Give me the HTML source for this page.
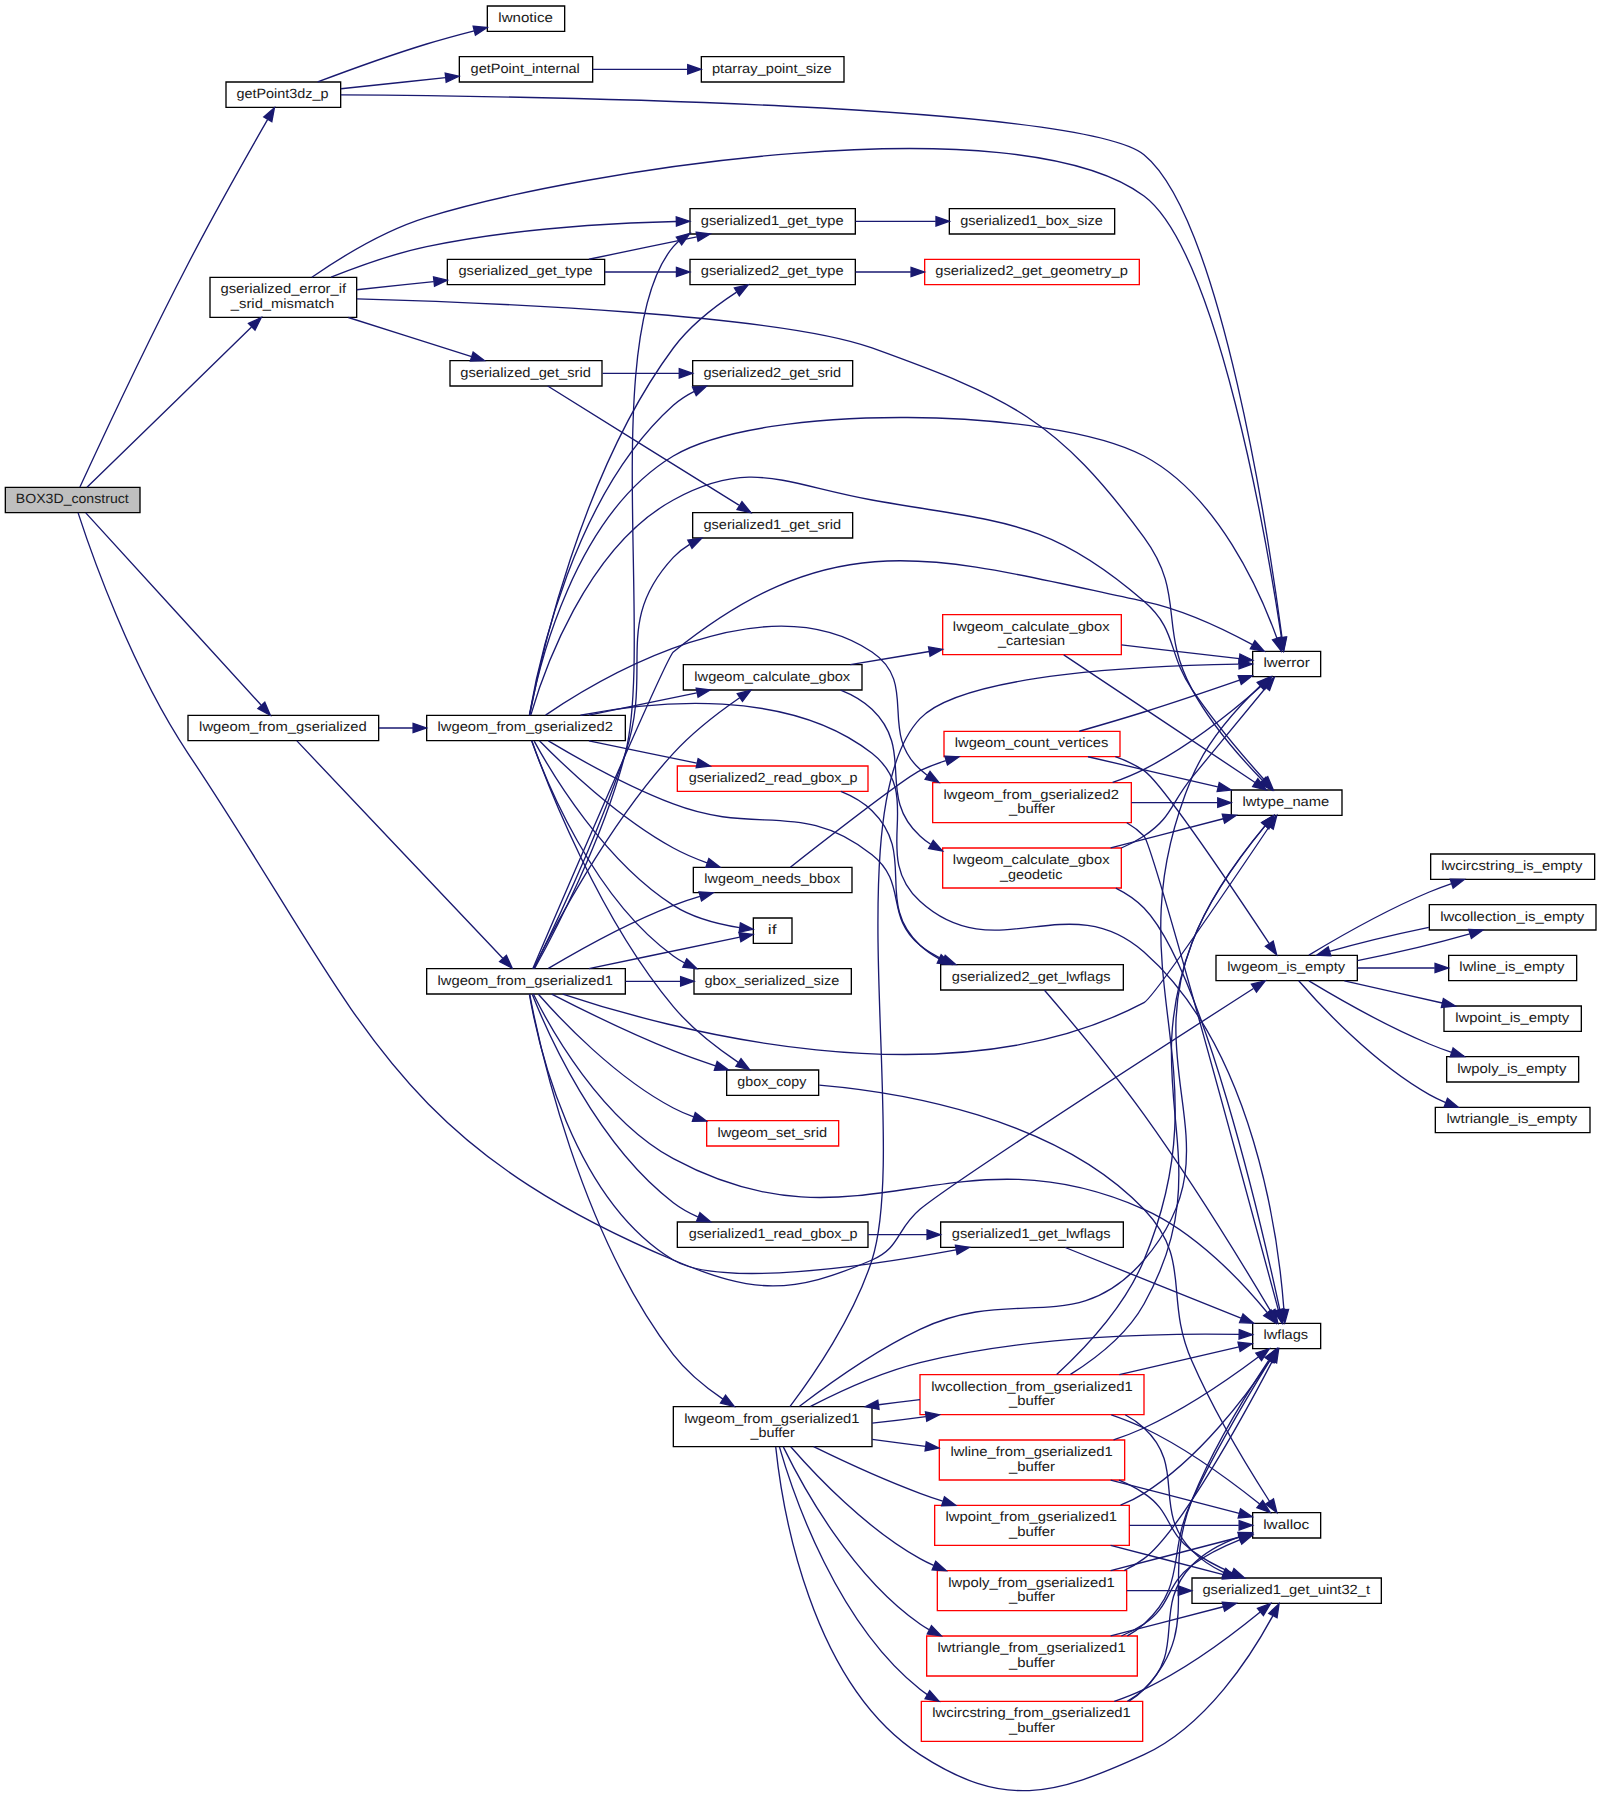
<!DOCTYPE html>
<html><head><meta charset="utf-8"><title>BOX3D_construct call graph</title>
<style>
html,body{margin:0;padding:0;background:#fff;}
body{width:1601px;height:1796px;overflow:hidden;}
svg{display:block;}
svg text{font-family:"Liberation Sans",sans-serif;font-size:10px;fill:#1a1a1a;text-rendering:geometricPrecision;}

</style></head>
<body>
<svg width="1201pt" height="1347.22pt" viewBox="0 0 1201 1347.22">
<g transform="scale(1 1) rotate(0) translate(4 1343.22)">
<polygon fill="white" stroke="none" points="-4,4 -4,-1343.22 1197,-1343.22 1197,4 -4,4"/>
<g><polygon fill="#bfbfbf" stroke="black" points="0,-958.72 0,-977.72 101,-977.72 101,-958.72 0,-958.72"/>
<text text-anchor="middle" x="50.20" y="-965.72" textLength="84.68" lengthAdjust="spacingAndGlyphs">BOX3D_construct</text></g>
<g><polygon fill="white" stroke="black" points="165.5,-1262.72 165.5,-1281.72 251.5,-1281.72 251.5,-1262.72 165.5,-1262.72"/>
<text text-anchor="middle" x="207.90" y="-1269.72" textLength="69.06" lengthAdjust="spacingAndGlyphs">getPoint3dz_p</text></g>
<g><path fill="none" stroke="midnightblue" d="M55.94,-977.9C68.3,-1004.74 104.32,-1082.2 137,-1145.22 157.2,-1184.17 182.52,-1228.85 196.66,-1253.47"/>
<polygon fill="midnightblue" stroke="midnightblue" points="193.8,-1255.52 201.82,-1262.44 199.86,-1252.03 193.8,-1255.52"/></g>
<g><polygon fill="white" stroke="black" points="153.5,-1105.22 153.5,-1135.22 263.5,-1135.22 263.5,-1105.22 153.5,-1105.22"/>
<text text-anchor="middle" x="208.50" y="-1123.22" textLength="94.24" lengthAdjust="spacingAndGlyphs">gserialized_error_if</text>
<text text-anchor="middle" x="207.90" y="-1112.22" textLength="77.50" lengthAdjust="spacingAndGlyphs">_srid_mismatch</text></g>
<g><path fill="none" stroke="midnightblue" d="M61.26,-977.72C85.69,-1001.53 150.02,-1064.21 184.65,-1097.95"/>
<polygon fill="midnightblue" stroke="midnightblue" points="182.36,-1100.61 191.97,-1105.08 187.25,-1095.59 182.36,-1100.61"/></g>
<g><polygon fill="white" stroke="black" points="137,-787.72 137,-806.72 280,-806.72 280,-787.72 137,-787.72"/>
<text text-anchor="middle" x="208.20" y="-794.72" textLength="125.72" lengthAdjust="spacingAndGlyphs">lwgeom_from_gserialized</text></g>
<g><path fill="none" stroke="midnightblue" d="M60.33,-958.53C85.75,-930.67 159.33,-850.02 191.79,-814.43"/>
<polygon fill="midnightblue" stroke="midnightblue" points="194.61,-816.54 198.76,-806.79 189.44,-811.82 194.61,-816.54"/></g>
<g><polygon fill="white" stroke="black" points="908,-607.72 908,-626.72 1014,-626.72 1014,-607.72 908,-607.72"/>
<text text-anchor="middle" x="960.70" y="-614.72" textLength="88.48" lengthAdjust="spacingAndGlyphs">lwgeom_is_empty</text></g>
<g><path fill="none" stroke="midnightblue" d="M54.57,-958.55C64.01,-929.6 94.59,-841.67 137,-778.22 266.97,-583.78 285.53,-489.15 501,-398.22 562.01,-372.47 589.17,-372.05 650,-398.22 671.37,-407.41 668.18,-421.26 686,-436.22 708.59,-455.17 873.61,-561.69 936.1,-601.87"/>
<polygon fill="midnightblue" stroke="midnightblue" points="934.58,-605.06 944.88,-607.52 938.36,-599.17 934.58,-605.06"/></g>
<g><polygon fill="white" stroke="black" points="340.5,-1281.72 340.5,-1300.72 440.5,-1300.72 440.5,-1281.72 340.5,-1281.72"/>
<text text-anchor="middle" x="389.90" y="-1288.72" textLength="81.92" lengthAdjust="spacingAndGlyphs">getPoint_internal</text></g>
<g><path fill="none" stroke="midnightblue" d="M251.7,-1276.67C275.09,-1279.14 304.56,-1282.25 330.23,-1284.96"/>
<polygon fill="midnightblue" stroke="midnightblue" points="329.91,-1288.45 340.23,-1286.01 330.65,-1281.48 329.91,-1288.45"/></g>
<g><polygon fill="white" stroke="black" points="935.5,-835.72 935.5,-854.72 986.5,-854.72 986.5,-835.72 935.5,-835.72"/>
<text text-anchor="middle" x="961.00" y="-842.72" textLength="34.87" lengthAdjust="spacingAndGlyphs">lwerror</text></g>
<g><path fill="none" stroke="midnightblue" d="M251.62,-1272.05C387.4,-1271.13 807.47,-1265.22 854,-1227.22 912.06,-1179.79 948.06,-936.46 957.51,-864.98"/>
<polygon fill="midnightblue" stroke="midnightblue" points="960.98,-865.41 958.79,-855.04 954.04,-864.51 960.98,-865.41"/></g>
<g><polygon fill="white" stroke="black" points="361.5,-1319.72 361.5,-1338.72 419.5,-1338.72 419.5,-1319.72 361.5,-1319.72"/>
<text text-anchor="middle" x="390.20" y="-1326.72" textLength="40.86" lengthAdjust="spacingAndGlyphs">lwnotice</text></g>
<g><path fill="none" stroke="midnightblue" d="M234.25,-1281.76C255.7,-1289.86 287.66,-1301.52 316,-1310.22 327.5,-1313.75 340.14,-1317.17 351.65,-1320.12"/>
<polygon fill="midnightblue" stroke="midnightblue" points="350.86,-1323.53 361.41,-1322.58 352.57,-1316.75 350.86,-1323.53"/></g>
<g><polygon fill="white" stroke="black" points="522,-1281.72 522,-1300.72 629,-1300.72 629,-1281.72 522,-1281.72"/>
<text text-anchor="middle" x="574.90" y="-1288.72" textLength="89.88" lengthAdjust="spacingAndGlyphs">ptarray_point_size</text></g>
<g><path fill="none" stroke="midnightblue" d="M440.54,-1291.22C462.4,-1291.22 488.41,-1291.22 511.67,-1291.22"/>
<polygon fill="midnightblue" stroke="midnightblue" points="511.79,-1294.72 521.79,-1291.22 511.79,-1287.72 511.79,-1294.72"/></g>
<g><path fill="none" stroke="midnightblue" d="M229.9,-1135.24C250.49,-1149.52 283.76,-1170.25 316,-1180.22 430.28,-1215.52 757.97,-1267.53 854,-1196.22 909.19,-1155.23 946.71,-933.52 957.09,-865.24"/>
<polygon fill="midnightblue" stroke="midnightblue" points="960.6,-865.4 958.61,-855 953.68,-864.37 960.6,-865.4"/></g>
<g><polygon fill="white" stroke="black" points="513.5,-1167.72 513.5,-1186.72 637.5,-1186.72 637.5,-1167.72 513.5,-1167.72"/>
<text text-anchor="middle" x="575.20" y="-1174.72" textLength="107.06" lengthAdjust="spacingAndGlyphs">gserialized1_get_type</text></g>
<g><path fill="none" stroke="midnightblue" d="M244.31,-1135.32C264.79,-1143.53 291.41,-1153.03 316,-1158.22 378.33,-1171.37 450.77,-1175.79 503.08,-1177.11"/>
<polygon fill="midnightblue" stroke="midnightblue" points="503.19,-1180.61 513.27,-1177.33 503.34,-1173.61 503.19,-1180.61"/></g>
<g><polygon fill="white" stroke="black" points="333.5,-1053.72 333.5,-1072.72 447.5,-1072.72 447.5,-1053.72 333.5,-1053.72"/>
<text text-anchor="middle" x="390.20" y="-1060.72" textLength="98.00" lengthAdjust="spacingAndGlyphs">gserialized_get_srid</text></g>
<g><path fill="none" stroke="midnightblue" d="M257.26,-1105.09C286.11,-1095.96 322.45,-1084.45 349.73,-1075.81"/>
<polygon fill="midnightblue" stroke="midnightblue" points="350.86,-1079.12 359.34,-1072.77 348.75,-1072.45 350.86,-1079.12"/></g>
<g><polygon fill="white" stroke="black" points="331.5,-1129.72 331.5,-1148.72 449.5,-1148.72 449.5,-1129.72 331.5,-1129.72"/>
<text text-anchor="middle" x="390.20" y="-1136.72" textLength="100.69" lengthAdjust="spacingAndGlyphs">gserialized_get_type</text></g>
<g><path fill="none" stroke="midnightblue" d="M263.51,-1125.92C281.68,-1127.83 302.19,-1130 321.31,-1132.02"/>
<polygon fill="midnightblue" stroke="midnightblue" points="321.14,-1135.52 331.46,-1133.09 321.88,-1128.56 321.14,-1135.52"/></g>
<g><polygon fill="white" stroke="black" points="919.5,-731.72 919.5,-750.72 1002.5,-750.72 1002.5,-731.72 919.5,-731.72"/>
<text text-anchor="middle" x="960.40" y="-738.72" textLength="65.16" lengthAdjust="spacingAndGlyphs">lwtype_name</text></g>
<g><path fill="none" stroke="midnightblue" d="M263.75,-1119.02C365.35,-1116.21 580.34,-1107.41 650,-1082.22 753.88,-1044.64 788.54,-1029.2 854,-940.22 885.49,-897.42 864.65,-872.91 890,-826.22 904.27,-799.94 927.23,-774.04 942.94,-757.87"/>
<polygon fill="midnightblue" stroke="midnightblue" points="945.44,-760.32 950,-750.75 940.47,-755.39 945.44,-760.32"/></g>
<g><polygon fill="white" stroke="black" points="708,-1167.72 708,-1186.72 832,-1186.72 832,-1167.72 708,-1167.72"/>
<text text-anchor="middle" x="769.70" y="-1174.72" textLength="106.96" lengthAdjust="spacingAndGlyphs">gserialized1_box_size</text></g>
<g><path fill="none" stroke="midnightblue" d="M637.67,-1177.22C656.8,-1177.22 678.06,-1177.22 697.81,-1177.22"/>
<polygon fill="midnightblue" stroke="midnightblue" points="697.99,-1180.72 707.99,-1177.22 697.99,-1173.72 697.99,-1180.72"/></g>
<g><polygon fill="white" stroke="black" points="515.5,-939.72 515.5,-958.72 635.5,-958.72 635.5,-939.72 515.5,-939.72"/>
<text text-anchor="middle" x="575.20" y="-946.72" textLength="103.16" lengthAdjust="spacingAndGlyphs">gserialized1_get_srid</text></g>
<g><path fill="none" stroke="midnightblue" d="M406.79,-1053.69C438.54,-1033.91 511.87,-988.23 550.19,-964.36"/>
<polygon fill="midnightblue" stroke="midnightblue" points="552.49,-967.05 559.13,-958.79 548.79,-961.11 552.49,-967.05"/></g>
<g><polygon fill="white" stroke="black" points="515.5,-1053.72 515.5,-1072.72 635.5,-1072.72 635.5,-1053.72 515.5,-1053.72"/>
<text text-anchor="middle" x="575.20" y="-1060.72" textLength="103.16" lengthAdjust="spacingAndGlyphs">gserialized2_get_srid</text></g>
<g><path fill="none" stroke="midnightblue" d="M447.9,-1063.22C466.06,-1063.22 486.39,-1063.22 505.36,-1063.22"/>
<polygon fill="midnightblue" stroke="midnightblue" points="505.44,-1066.72 515.44,-1063.22 505.44,-1059.72 505.44,-1066.72"/></g>
<g><path fill="none" stroke="midnightblue" d="M437.68,-1148.8C462.26,-1153.91 492.69,-1160.23 518.6,-1165.61"/>
<polygon fill="midnightblue" stroke="midnightblue" points="518.15,-1169.09 528.65,-1167.7 519.57,-1162.24 518.15,-1169.09"/></g>
<g><polygon fill="white" stroke="black" points="513.5,-1129.72 513.5,-1148.72 637.5,-1148.72 637.5,-1129.72 513.5,-1129.72"/>
<text text-anchor="middle" x="575.20" y="-1136.72" textLength="107.06" lengthAdjust="spacingAndGlyphs">gserialized2_get_type</text></g>
<g><path fill="none" stroke="midnightblue" d="M449.65,-1139.22C466.63,-1139.22 485.37,-1139.22 503.07,-1139.22"/>
<polygon fill="midnightblue" stroke="midnightblue" points="503.34,-1142.72 513.34,-1139.22 503.34,-1135.72 503.34,-1142.72"/></g>
<g><polygon fill="white" stroke="red" points="689.5,-1129.72 689.5,-1148.72 850.5,-1148.72 850.5,-1129.72 689.5,-1129.72"/>
<text text-anchor="middle" x="769.70" y="-1136.72" textLength="144.53" lengthAdjust="spacingAndGlyphs">gserialized2_get_geometry_p</text></g>
<g><path fill="none" stroke="midnightblue" d="M637.67,-1139.22C650.87,-1139.22 665.09,-1139.22 679.13,-1139.22"/>
<polygon fill="midnightblue" stroke="midnightblue" points="679.3,-1142.72 689.3,-1139.22 679.3,-1135.72 679.3,-1142.72"/></g>
<g><polygon fill="white" stroke="black" points="316,-597.72 316,-616.72 465,-616.72 465,-597.72 316,-597.72"/>
<text text-anchor="middle" x="389.90" y="-604.72" textLength="131.48" lengthAdjust="spacingAndGlyphs">lwgeom_from_gserialized1</text></g>
<g><path fill="none" stroke="midnightblue" d="M218.67,-787.53C247.43,-757.17 336.11,-663.57 373.07,-624.56"/>
<polygon fill="midnightblue" stroke="midnightblue" points="375.79,-626.77 380.13,-617.11 370.71,-621.96 375.79,-626.77"/></g>
<g><polygon fill="white" stroke="black" points="316,-787.72 316,-806.72 465,-806.72 465,-787.72 316,-787.72"/>
<text text-anchor="middle" x="389.90" y="-794.72" textLength="131.48" lengthAdjust="spacingAndGlyphs">lwgeom_from_gserialized2</text></g>
<g><path fill="none" stroke="midnightblue" d="M280.12,-797.22C288.55,-797.22 297.21,-797.22 305.8,-797.22"/>
<polygon fill="midnightblue" stroke="midnightblue" points="305.82,-800.72 315.82,-797.22 305.82,-793.72 305.82,-800.72"/></g>
<g><path fill="none" stroke="midnightblue" d="M395.57,-616.72C414.81,-661.58 495.85,-850.07 501,-854.22 623.89,-953.2 699.63,-924.91 854,-892.22 883.37,-886 914.5,-871.07 935.37,-859.69"/>
<polygon fill="midnightblue" stroke="midnightblue" points="937.17,-862.69 944.19,-854.76 933.76,-856.58 937.17,-862.69"/></g>
<g><path fill="none" stroke="midnightblue" d="M396.93,-616.86C410.97,-642.3 448.52,-713.72 465,-778.22 486,-860.4 445.96,-1093.68 501,-1158.22 502.31,-1159.76 503.74,-1161.18 505.25,-1162.5"/>
<polygon fill="midnightblue" stroke="midnightblue" points="503.26,-1165.38 513.47,-1168.22 507.26,-1159.64 503.26,-1165.38"/></g>
<g><path fill="none" stroke="midnightblue" d="M396.4,-617.01C409.15,-642.83 443.87,-715.09 465,-778.22 486.35,-842 455.26,-875.89 501,-925.22 504.56,-929.05 508.74,-932.28 513.27,-934.99"/>
<polygon fill="midnightblue" stroke="midnightblue" points="511.84,-938.19 522.34,-939.6 515.01,-931.95 511.84,-938.19"/></g>
<g><path fill="none" stroke="midnightblue" d="M418.05,-597.7C492.22,-572.84 705.82,-513.1 854,-591.22 861.05,-594.93 921.76,-684.37 948,-723.34"/>
<polygon fill="midnightblue" stroke="midnightblue" points="945.12,-725.32 953.6,-731.67 950.93,-721.42 945.12,-725.32"/></g>
<g><polygon fill="white" stroke="black" points="541,-521.72 541,-540.72 610,-540.72 610,-521.72 541,-521.72"/>
<text text-anchor="middle" x="574.90" y="-528.72" textLength="51.81" lengthAdjust="spacingAndGlyphs">gbox_copy</text></g>
<g><path fill="none" stroke="midnightblue" d="M409.78,-597.65C431.26,-586.61 468.16,-568.31 501,-555.22 511.11,-551.18 522.19,-547.3 532.61,-543.87"/>
<polygon fill="midnightblue" stroke="midnightblue" points="533.9,-547.13 542.35,-540.73 531.75,-540.47 533.9,-547.13"/></g>
<g><polygon fill="white" stroke="black" points="516.5,-597.72 516.5,-616.72 634.5,-616.72 634.5,-597.72 516.5,-597.72"/>
<text text-anchor="middle" x="574.90" y="-604.72" textLength="101.20" lengthAdjust="spacingAndGlyphs">gbox_serialized_size</text></g>
<g><path fill="none" stroke="midnightblue" d="M465.14,-607.22C478.75,-607.22 492.92,-607.22 506.36,-607.22"/>
<polygon fill="midnightblue" stroke="midnightblue" points="506.47,-610.72 516.47,-607.22 506.47,-603.72 506.47,-610.72"/></g>
<g><polygon fill="white" stroke="black" points="701.5,-407.72 701.5,-426.72 838.5,-426.72 838.5,-407.72 701.5,-407.72"/>
<text text-anchor="middle" x="769.40" y="-414.72" textLength="119.06" lengthAdjust="spacingAndGlyphs">gserialized1_get_lwflags</text></g>
<g><path fill="none" stroke="midnightblue" d="M393.05,-597.35C399.15,-562.41 424.95,-444.23 501,-398.22 535.4,-377.4 645.01,-393.24 712.93,-405.8"/>
<polygon fill="midnightblue" stroke="midnightblue" points="712.57,-409.3 723.05,-407.71 713.87,-402.42 712.57,-409.3"/></g>
<g><polygon fill="white" stroke="black" points="935.5,-331.72 935.5,-350.72 986.5,-350.72 986.5,-331.72 935.5,-331.72"/>
<text text-anchor="middle" x="960.40" y="-338.72" textLength="33.44" lengthAdjust="spacingAndGlyphs">lwflags</text></g>
<g><path fill="none" stroke="midnightblue" d="M396.01,-597.69C408.55,-572.42 446.51,-503.61 501,-474.22 639.88,-399.31 709.85,-500.41 854,-436.22 893.26,-418.73 928.1,-381.16 946.4,-358.86"/>
<polygon fill="midnightblue" stroke="midnightblue" points="949.28,-360.87 952.79,-350.87 943.81,-356.5 949.28,-360.87"/></g>
<g><polygon fill="white" stroke="black" points="504,-407.72 504,-426.72 647,-426.72 647,-407.72 504,-407.72"/>
<text text-anchor="middle" x="575.80" y="-414.72" textLength="126.59" lengthAdjust="spacingAndGlyphs">gserialized1_read_gbox_p</text></g>
<g><path fill="none" stroke="midnightblue" d="M395.25,-597.32C406.6,-568.72 443.35,-485.19 501,-441.22 506.52,-437 512.81,-433.51 519.34,-430.63"/>
<polygon fill="midnightblue" stroke="midnightblue" points="520.98,-433.74 529,-426.81 518.42,-427.23 520.98,-433.74"/></g>
<g><polygon fill="white" stroke="black" points="561,-635.72 561,-654.72 590,-654.72 590,-635.72 561,-635.72"/>
<text text-anchor="middle" x="575.20" y="-642.72" textLength="6.60" lengthAdjust="spacingAndGlyphs">if</text></g>
<g><path fill="none" stroke="midnightblue" d="M437.68,-616.8C473.73,-624.29 522.34,-634.39 550.87,-640.31"/>
<polygon fill="midnightblue" stroke="midnightblue" points="550.24,-643.75 560.75,-642.36 551.67,-636.9 550.24,-643.75"/></g>
<g><polygon fill="white" stroke="black" points="508.5,-825.72 508.5,-844.72 642.5,-844.72 642.5,-825.72 508.5,-825.72"/>
<text text-anchor="middle" x="575.20" y="-832.72" textLength="116.86" lengthAdjust="spacingAndGlyphs">lwgeom_calculate_gbox</text></g>
<g><path fill="none" stroke="midnightblue" d="M396.19,-616.89C409.77,-644.27 451.3,-723.83 501,-778.22 515.75,-794.36 535.46,-809.37 550.76,-819.94"/>
<polygon fill="midnightblue" stroke="midnightblue" points="548.94,-822.93 559.19,-825.62 552.85,-817.12 548.94,-822.93"/></g>
<g><polygon fill="white" stroke="black" points="501,-258.22 501,-288.22 650,-288.22 650,-258.22 501,-258.22"/>
<text text-anchor="middle" x="574.90" y="-276.22" textLength="131.48" lengthAdjust="spacingAndGlyphs">lwgeom_from_gserialized1</text>
<text text-anchor="middle" x="575.50" y="-265.22" textLength="33.34" lengthAdjust="spacingAndGlyphs">_buffer</text></g>
<g><path fill="none" stroke="midnightblue" d="M393.24,-597.56C400.46,-559.62 431.05,-418.28 501,-327.22 511.05,-314.13 525.09,-302.76 538.21,-293.86"/>
<polygon fill="midnightblue" stroke="midnightblue" points="540.17,-296.76 546.65,-288.38 536.36,-290.89 540.17,-296.76"/></g>
<g><polygon fill="white" stroke="black" points="516,-673.72 516,-692.72 635,-692.72 635,-673.72 516,-673.72"/>
<text text-anchor="middle" x="575.20" y="-680.72" textLength="101.84" lengthAdjust="spacingAndGlyphs">lwgeom_needs_bbox</text></g>
<g><path fill="none" stroke="midnightblue" d="M407.29,-616.9C428.11,-629.32 466.18,-650.85 501,-664.22 507.37,-666.66 514.16,-668.89 520.95,-670.9"/>
<polygon fill="midnightblue" stroke="midnightblue" points="520.27,-674.34 530.85,-673.67 522.16,-667.6 520.27,-674.34"/></g>
<g><polygon fill="white" stroke="red" points="526,-483.72 526,-502.72 625,-502.72 625,-483.72 526,-483.72"/>
<text text-anchor="middle" x="575.20" y="-490.72" textLength="82.15" lengthAdjust="spacingAndGlyphs">lwgeom_set_srid</text></g>
<g><path fill="none" stroke="midnightblue" d="M399.79,-597.49C416.76,-578.21 457.55,-535.04 501,-512.22 505.81,-509.69 510.98,-507.48 516.27,-505.56"/>
<polygon fill="midnightblue" stroke="midnightblue" points="517.46,-508.85 525.86,-502.39 515.27,-502.2 517.46,-508.85"/></g>
<g><polygon fill="white" stroke="black" points="935.5,-189.72 935.5,-208.72 986.5,-208.72 986.5,-189.72 935.5,-189.72"/>
<text text-anchor="middle" x="960.70" y="-196.72" textLength="34.56" lengthAdjust="spacingAndGlyphs">lwalloc</text></g>
<g><path fill="none" stroke="midnightblue" d="M610.41,-529.4C668.67,-524.41 787.87,-505.79 854,-436.22 890.61,-397.7 868.74,-370.91 890,-322.22 907.02,-283.23 933.04,-240.71 948.1,-217.28"/>
<polygon fill="midnightblue" stroke="midnightblue" points="951.13,-219.03 953.65,-208.74 945.26,-215.22 951.13,-219.03"/></g>
<g><path fill="none" stroke="midnightblue" d="M794.94,-407.59C828.31,-394.17 888.96,-369.78 926.72,-354.6"/>
<polygon fill="midnightblue" stroke="midnightblue" points="928.29,-357.74 936.26,-350.76 925.67,-351.25 928.29,-357.74"/></g>
<g><path fill="none" stroke="midnightblue" d="M647.09,-417.22C661.47,-417.22 676.68,-417.22 691.3,-417.22"/>
<polygon fill="midnightblue" stroke="midnightblue" points="691.31,-420.72 701.31,-417.22 691.31,-413.72 691.31,-420.72"/></g>
<g><polygon fill="white" stroke="red" points="703,-852.22 703,-882.22 837,-882.22 837,-852.22 703,-852.22"/>
<text text-anchor="middle" x="769.40" y="-870.22" textLength="117.46" lengthAdjust="spacingAndGlyphs">lwgeom_calculate_gbox</text>
<text text-anchor="middle" x="769.70" y="-859.22" textLength="50.37" lengthAdjust="spacingAndGlyphs">_cartesian</text></g>
<g><path fill="none" stroke="midnightblue" d="M633.74,-844.73C652.32,-847.82 673.24,-851.3 692.97,-854.58"/>
<polygon fill="midnightblue" stroke="midnightblue" points="692.41,-858.03 702.85,-856.22 693.56,-851.13 692.41,-858.03"/></g>
<g><polygon fill="white" stroke="red" points="703,-677.22 703,-707.22 837,-707.22 837,-677.22 703,-677.22"/>
<text text-anchor="middle" x="769.40" y="-695.22" textLength="117.46" lengthAdjust="spacingAndGlyphs">lwgeom_calculate_gbox</text>
<text text-anchor="middle" x="769.40" y="-684.22" textLength="46.82" lengthAdjust="spacingAndGlyphs">_geodetic</text></g>
<g><path fill="none" stroke="midnightblue" d="M626.51,-825.59C635.12,-822.17 643.4,-817.52 650,-811.22 682.66,-780.04 652.81,-746.83 686,-716.22 688.48,-713.93 691.17,-711.86 694,-709.98"/>
<polygon fill="midnightblue" stroke="midnightblue" points="695.94,-712.91 702.9,-704.92 692.48,-706.82 695.94,-712.91"/></g>
<g><path fill="none" stroke="midnightblue" d="M837.1,-859.52C866.91,-856.05 900.87,-852.1 925.53,-849.23"/>
<polygon fill="midnightblue" stroke="midnightblue" points="925.96,-852.7 935.49,-848.07 925.15,-845.75 925.96,-852.7"/></g>
<g><path fill="none" stroke="midnightblue" d="M793.8,-852.02C830.18,-827.76 900.97,-780.57 937.3,-756.35"/>
<polygon fill="midnightblue" stroke="midnightblue" points="939.37,-759.18 945.75,-750.72 935.49,-753.35 939.37,-759.18"/></g>
<g><path fill="none" stroke="midnightblue" d="M837.01,-707.22C842.97,-709.77 848.74,-712.75 854,-716.22 875.09,-730.13 873.97,-740.69 890,-760.22 909,-783.37 930.97,-810.02 945.15,-827.22"/>
<polygon fill="midnightblue" stroke="midnightblue" points="942.74,-829.79 951.8,-835.28 948.14,-825.34 942.74,-829.79"/></g>
<g><path fill="none" stroke="midnightblue" d="M828.99,-707.25C856.1,-714.28 887.95,-722.54 913.45,-729.15"/>
<polygon fill="midnightblue" stroke="midnightblue" points="912.69,-732.57 923.25,-731.69 914.45,-725.79 912.69,-732.57"/></g>
<g><path fill="none" stroke="midnightblue" d="M832.87,-677.16C840.68,-673.26 848.02,-668.37 854,-662.22 897.72,-617.26 942.31,-423.68 955.86,-360.93"/>
<polygon fill="midnightblue" stroke="midnightblue" points="959.35,-361.31 958.02,-350.8 952.51,-359.85 959.35,-361.31"/></g>
<g><path fill="none" stroke="midnightblue" d="M588.43,-288.31C605.46,-310.79 636.18,-355.06 650,-398.22 677.63,-484.47 623.91,-738.27 686,-804.22 717.94,-838.13 858.43,-844.2 924.91,-845.14"/>
<polygon fill="midnightblue" stroke="midnightblue" points="925.25,-848.64 935.29,-845.25 925.33,-841.64 925.25,-848.64"/></g>
<g><path fill="none" stroke="midnightblue" d="M595.65,-288.49C616.74,-304.69 652.16,-330.12 686,-346.22 756.58,-379.8 803.03,-338.96 854,-398.22 923.76,-479.32 851.41,-536.44 890,-636.22 903.08,-670.03 928.51,-704.01 944.85,-723.81"/>
<polygon fill="midnightblue" stroke="midnightblue" points="942.31,-726.23 951.44,-731.62 947.66,-721.72 942.31,-726.23"/></g>
<g><path fill="none" stroke="midnightblue" d="M603.93,-288.38C625.54,-299.54 656.79,-313.97 686,-321.22 770.02,-342.04 872.63,-343.39 925.24,-342.41"/>
<polygon fill="midnightblue" stroke="midnightblue" points="925.46,-345.91 935.37,-342.18 925.3,-338.91 925.46,-345.91"/></g>
<g><polygon fill="white" stroke="black" points="890,-140.72 890,-159.72 1032,-159.72 1032,-140.72 890,-140.72"/>
<text text-anchor="middle" x="960.70" y="-147.72" textLength="125.74" lengthAdjust="spacingAndGlyphs">gserialized1_get_uint32_t</text></g>
<g><path fill="none" stroke="midnightblue" d="M577.79,-258.06C582.53,-213.22 603.28,-80.94 686,-27.22 748.62,13.45 786.12,3.89 854,-27.22 900.99,-48.75 935.05,-102.55 950.59,-131.34"/>
<polygon fill="midnightblue" stroke="midnightblue" points="947.58,-133.13 955.31,-140.38 953.79,-129.9 947.58,-133.13"/></g>
<g><polygon fill="white" stroke="red" points="687,-37.22 687,-67.22 853,-67.22 853,-37.22 687,-37.22"/>
<text text-anchor="middle" x="769.70" y="-55.22" textLength="148.90" lengthAdjust="spacingAndGlyphs">lwcircstring_from_gserialized1</text>
<text text-anchor="middle" x="770.00" y="-44.22" textLength="34.54" lengthAdjust="spacingAndGlyphs">_buffer</text></g>
<g><path fill="none" stroke="midnightblue" d="M580.57,-258.02C591.26,-221.05 623.71,-125.82 686,-76.22 687.76,-74.81 689.61,-73.49 691.51,-72.24"/>
<polygon fill="midnightblue" stroke="midnightblue" points="693.28,-75.26 700.23,-67.27 689.81,-69.18 693.28,-75.26"/></g>
<g><polygon fill="white" stroke="red" points="686,-282.22 686,-312.22 854,-312.22 854,-282.22 686,-282.22"/>
<text text-anchor="middle" x="770.00" y="-300.22" textLength="151.10" lengthAdjust="spacingAndGlyphs">lwcollection_from_gserialized1</text>
<text text-anchor="middle" x="770.00" y="-289.22" textLength="34.54" lengthAdjust="spacingAndGlyphs">_buffer</text></g>
<g><path fill="none" stroke="midnightblue" d="M650.1,-275.81C663.29,-277.26 677.09,-278.95 690.42,-280.77"/>
<polygon fill="midnightblue" stroke="midnightblue" points="690.11,-284.26 700.5,-282.18 691.08,-277.33 690.11,-284.26"/></g>
<g><polygon fill="white" stroke="red" points="700.5,-233.22 700.5,-263.22 839.5,-263.22 839.5,-233.22 700.5,-233.22"/>
<text text-anchor="middle" x="769.70" y="-251.22" textLength="121.77" lengthAdjust="spacingAndGlyphs">lwline_from_gserialized1</text>
<text text-anchor="middle" x="770.00" y="-240.22" textLength="34.54" lengthAdjust="spacingAndGlyphs">_buffer</text></g>
<g><path fill="none" stroke="midnightblue" d="M650.1,-263.66C663.21,-261.95 676.91,-260.17 690.16,-258.45"/>
<polygon fill="midnightblue" stroke="midnightblue" points="690.72,-261.91 700.19,-257.15 689.82,-254.97 690.72,-261.91"/></g>
<g><polygon fill="white" stroke="red" points="697,-184.22 697,-214.22 843,-214.22 843,-184.22 697,-184.22"/>
<text text-anchor="middle" x="769.40" y="-202.22" textLength="128.63" lengthAdjust="spacingAndGlyphs">lwpoint_from_gserialized1</text>
<text text-anchor="middle" x="770.00" y="-191.22" textLength="34.54" lengthAdjust="spacingAndGlyphs">_buffer</text></g>
<g><path fill="none" stroke="midnightblue" d="M606.21,-258.21C627.96,-247.58 658.37,-233.46 686,-223.22 691.5,-221.18 697.25,-219.2 703.05,-217.32"/>
<polygon fill="midnightblue" stroke="midnightblue" points="704.34,-220.58 712.83,-214.24 702.24,-213.91 704.34,-220.58"/></g>
<g><polygon fill="white" stroke="red" points="699,-135.22 699,-165.22 841,-165.22 841,-135.22 699,-135.22"/>
<text text-anchor="middle" x="769.70" y="-153.22" textLength="124.89" lengthAdjust="spacingAndGlyphs">lwpoly_from_gserialized1</text>
<text text-anchor="middle" x="770.00" y="-142.22" textLength="34.54" lengthAdjust="spacingAndGlyphs">_buffer</text></g>
<g><path fill="none" stroke="midnightblue" d="M589.07,-258.16C607.94,-236.49 645.7,-196.67 686,-174.22 689.27,-172.39 692.7,-170.7 696.21,-169.12"/>
<polygon fill="midnightblue" stroke="midnightblue" points="697.76,-172.27 705.68,-165.23 695.1,-165.79 697.76,-172.27"/></g>
<g><polygon fill="white" stroke="red" points="691,-86.22 691,-116.22 849,-116.22 849,-86.22 691,-86.22"/>
<text text-anchor="middle" x="769.70" y="-104.22" textLength="141.08" lengthAdjust="spacingAndGlyphs">lwtriangle_from_gserialized1</text>
<text text-anchor="middle" x="770.00" y="-93.22" textLength="34.54" lengthAdjust="spacingAndGlyphs">_buffer</text></g>
<g><path fill="none" stroke="midnightblue" d="M583.47,-258.07C598.08,-228.05 634.83,-160.8 686,-125.22 688.16,-123.72 690.4,-122.31 692.72,-120.99"/>
<polygon fill="midnightblue" stroke="midnightblue" points="694.62,-123.96 701.97,-116.32 691.46,-117.71 694.62,-123.96"/></g>
<g><path fill="none" stroke="midnightblue" d="M841.51,-67.29C846.01,-69.82 850.24,-72.77 854,-76.22 886.69,-106.15 859.22,-137.32 890,-169.22 899.56,-179.13 912.93,-185.94 925.43,-190.53"/>
<polygon fill="midnightblue" stroke="midnightblue" points="924.58,-193.94 935.17,-193.76 926.78,-187.29 924.58,-193.94"/></g>
<g><path fill="none" stroke="midnightblue" d="M842.77,-67.26C846.86,-69.8 850.66,-72.77 854,-76.22 899.27,-123.01 865.68,-157.82 890,-218.22 905.81,-257.48 932.04,-299.6 947.51,-322.95"/>
<polygon fill="midnightblue" stroke="midnightblue" points="944.75,-325.12 953.23,-331.47 950.56,-321.22 944.75,-325.12"/></g>
<g><path fill="none" stroke="midnightblue" d="M831.71,-67.24C839.36,-69.87 846.96,-72.85 854,-76.22 886.96,-91.95 920.86,-117.59 941.17,-134.18"/>
<polygon fill="midnightblue" stroke="midnightblue" points="939.08,-136.99 949.01,-140.68 943.55,-131.6 939.08,-136.99"/></g>
<g><path fill="none" stroke="midnightblue" d="M788.5,-312.33C808.2,-330.51 839.38,-363 854,-398.22 915.99,-547.54 827.93,-610.92 890,-760.22 901.35,-787.52 924.54,-812.86 941.12,-828.64"/>
<polygon fill="midnightblue" stroke="midnightblue" points="938.93,-831.38 948.65,-835.59 943.67,-826.24 938.93,-831.38"/></g>
<g><path fill="none" stroke="midnightblue" d="M798.86,-312.41C817.68,-324.23 841.31,-342.43 854,-365.22 913.13,-471.36 847.19,-522.5 890,-636.22 902.77,-670.15 928.29,-704.1 944.73,-723.85"/>
<polygon fill="midnightblue" stroke="midnightblue" points="942.22,-726.3 951.37,-731.65 947.55,-721.76 942.22,-726.3"/></g>
<g><path fill="none" stroke="midnightblue" d="M829.47,-282.12C837.86,-279.23 846.27,-275.93 854,-272.22 886.6,-256.55 920.36,-231.51 940.77,-215.21"/>
<polygon fill="midnightblue" stroke="midnightblue" points="943.1,-217.83 948.66,-208.82 938.69,-212.4 943.1,-217.83"/></g>
<g><path fill="none" stroke="midnightblue" d="M835.51,-312.23C865.59,-319.24 900.19,-327.29 925.26,-333.13"/>
<polygon fill="midnightblue" stroke="midnightblue" points="924.52,-336.55 935.05,-335.41 926.1,-329.73 924.52,-336.55"/></g>
<g><path fill="none" stroke="midnightblue" d="M685.97,-293.56C675.7,-292.36 665.21,-291.04 655.01,-289.65"/>
<polygon fill="midnightblue" stroke="midnightblue" points="655.3,-286.16 644.91,-288.24 654.33,-293.09 655.3,-286.16"/></g>
<g><path fill="none" stroke="midnightblue" d="M839.91,-282.14C845.01,-279.37 849.8,-276.09 854,-272.22 886.27,-242.44 859.45,-211.75 890,-180.22 896.69,-173.31 905.23,-167.9 914.03,-163.71"/>
<polygon fill="midnightblue" stroke="midnightblue" points="915.42,-166.92 923.22,-159.76 912.65,-160.49 915.42,-166.92"/></g>
<g><path fill="none" stroke="midnightblue" d="M828.99,-233.18C860.55,-225 898.53,-215.15 925.45,-208.17"/>
<polygon fill="midnightblue" stroke="midnightblue" points="926.39,-211.55 935.19,-205.65 924.63,-204.77 926.39,-211.55"/></g>
<g><path fill="none" stroke="midnightblue" d="M831.16,-263.31C838.98,-265.94 846.77,-268.91 854,-272.22 885.97,-286.85 919.42,-310.17 939.99,-325.59"/>
<polygon fill="midnightblue" stroke="midnightblue" points="937.89,-328.39 947.97,-331.66 942.13,-322.82 937.89,-328.39"/></g>
<g><path fill="none" stroke="midnightblue" d="M835.26,-233.04C841.84,-230.28 848.22,-227.03 854,-223.22 874.81,-209.49 870,-195.09 890,-180.22 899.02,-173.51 909.76,-167.95 920.09,-163.52"/>
<polygon fill="midnightblue" stroke="midnightblue" points="921.44,-166.75 929.4,-159.76 918.82,-160.26 921.44,-166.75"/></g>
<g><path fill="none" stroke="midnightblue" d="M843.26,-199.22C871.33,-199.22 902.17,-199.22 925.1,-199.22"/>
<polygon fill="midnightblue" stroke="midnightblue" points="925.36,-202.72 935.36,-199.22 925.36,-195.72 925.36,-202.72"/></g>
<g><path fill="none" stroke="midnightblue" d="M836.41,-214.29C842.57,-216.84 848.54,-219.79 854,-223.22 895.97,-249.54 931.3,-297.14 948.6,-323.11"/>
<polygon fill="midnightblue" stroke="midnightblue" points="945.74,-325.15 954.13,-331.63 951.61,-321.33 945.74,-325.15"/></g>
<g><path fill="none" stroke="midnightblue" d="M828.99,-184.18C856.1,-177.15 887.95,-168.9 913.45,-162.28"/>
<polygon fill="midnightblue" stroke="midnightblue" points="914.45,-165.64 923.25,-159.74 912.69,-158.87 914.45,-165.64"/></g>
<g><path fill="none" stroke="midnightblue" d="M828.99,-165.25C860.55,-173.43 898.53,-183.28 925.45,-190.26"/>
<polygon fill="midnightblue" stroke="midnightblue" points="924.63,-193.66 935.19,-192.78 926.39,-186.89 924.63,-193.66"/></g>
<g><path fill="none" stroke="midnightblue" d="M839.14,-165.35C844.4,-167.86 849.44,-170.8 854,-174.22 881.17,-194.59 929.63,-283.16 950.26,-322.4"/>
<polygon fill="midnightblue" stroke="midnightblue" points="947.26,-324.2 954.99,-331.44 953.46,-320.96 947.26,-324.2"/></g>
<g><path fill="none" stroke="midnightblue" d="M841.11,-150.22C853.63,-150.22 866.75,-150.22 879.53,-150.22"/>
<polygon fill="midnightblue" stroke="midnightblue" points="879.69,-153.72 889.69,-150.22 879.69,-146.72 879.69,-153.72"/></g>
<g><path fill="none" stroke="midnightblue" d="M837.01,-116.22C842.97,-118.77 848.74,-121.75 854,-125.22 875.09,-139.13 869.81,-154.03 890,-169.22 900.65,-177.23 913.76,-183.58 925.75,-188.34"/>
<polygon fill="midnightblue" stroke="midnightblue" points="924.88,-191.75 935.47,-191.96 927.32,-185.19 924.88,-191.75"/></g>
<g><path fill="none" stroke="midnightblue" d="M841.51,-116.29C846.01,-118.82 850.24,-121.77 854,-125.22 886.69,-155.15 870.99,-178.18 890,-218.22 908.25,-256.64 933.83,-299.36 948.48,-322.98"/>
<polygon fill="midnightblue" stroke="midnightblue" points="945.6,-324.97 953.87,-331.59 951.54,-321.26 945.6,-324.97"/></g>
<g><path fill="none" stroke="midnightblue" d="M828.99,-116.25C856.1,-123.28 887.95,-131.54 913.45,-138.15"/>
<polygon fill="midnightblue" stroke="midnightblue" points="912.69,-141.57 923.25,-140.69 914.45,-134.79 912.69,-141.57"/></g>
<g><polygon fill="white" stroke="red" points="704,-775.72 704,-794.72 836,-794.72 836,-775.72 704,-775.72"/>
<text text-anchor="middle" x="769.70" y="-782.72" textLength="115.17" lengthAdjust="spacingAndGlyphs">lwgeom_count_vertices</text></g>
<g><path fill="none" stroke="midnightblue" d="M588.78,-692.85C615.07,-713.43 675.31,-760.19 686,-765.22 692.13,-768.1 698.71,-770.59 705.39,-772.73"/>
<polygon fill="midnightblue" stroke="midnightblue" points="704.63,-776.16 715.21,-775.64 706.62,-769.45 704.63,-776.16"/></g>
<g><path fill="none" stroke="midnightblue" d="M805.43,-794.79C820.4,-799.05 838.12,-804.22 854,-809.22 878.06,-816.78 904.96,-825.92 925.65,-833.1"/>
<polygon fill="midnightblue" stroke="midnightblue" points="924.67,-836.47 935.26,-836.45 926.97,-829.86 924.67,-836.47"/></g>
<g><path fill="none" stroke="midnightblue" d="M812.01,-775.67C840.59,-769.01 878.9,-760.1 909.38,-753"/>
<polygon fill="midnightblue" stroke="midnightblue" points="910.45,-756.35 919.39,-750.67 908.86,-749.53 910.45,-756.35"/></g>
<g><path fill="none" stroke="midnightblue" d="M832.51,-775.71C840.11,-773.03 847.48,-769.6 854,-765.22 866.93,-756.51 922.88,-673.33 947.87,-635.63"/>
<polygon fill="midnightblue" stroke="midnightblue" points="950.91,-637.37 953.51,-627.1 945.07,-633.51 950.91,-637.37"/></g>
<g><polygon fill="white" stroke="black" points="1069,-683.72 1069,-702.72 1192,-702.72 1192,-683.72 1069,-683.72"/>
<text text-anchor="middle" x="1129.90" y="-690.72" textLength="105.90" lengthAdjust="spacingAndGlyphs">lwcircstring_is_empty</text></g>
<g><path fill="none" stroke="midnightblue" d="M977.69,-626.9C997.97,-639.13 1034.66,-660.26 1068,-674.22 1073.35,-676.46 1079.06,-678.57 1084.76,-680.51"/>
<polygon fill="midnightblue" stroke="midnightblue" points="1083.69,-683.84 1094.28,-683.62 1085.86,-677.19 1083.69,-683.84"/></g>
<g><polygon fill="white" stroke="black" points="1068,-645.72 1068,-664.72 1193,-664.72 1193,-645.72 1068,-645.72"/>
<text text-anchor="middle" x="1130.20" y="-652.72" textLength="108.10" lengthAdjust="spacingAndGlyphs">lwcollection_is_empty</text></g>
<g><path fill="none" stroke="midnightblue" d="M1014.08,-622.73C1041.69,-628.17 1074.68,-635.96 1098.3,-642.75"/>
<polygon fill="midnightblue" stroke="midnightblue" points="1097.55,-646.17 1108.13,-645.68 1099.55,-639.46 1097.55,-646.17"/></g>
<g><polygon fill="white" stroke="black" points="1082.5,-607.72 1082.5,-626.72 1178.5,-626.72 1178.5,-607.72 1082.5,-607.72"/>
<text text-anchor="middle" x="1129.90" y="-614.72" textLength="78.77" lengthAdjust="spacingAndGlyphs">lwline_is_empty</text></g>
<g><path fill="none" stroke="midnightblue" d="M1014.08,-617.22C1032.47,-617.22 1053.26,-617.22 1072.07,-617.22"/>
<polygon fill="midnightblue" stroke="midnightblue" points="1072.29,-620.72 1082.29,-617.22 1072.29,-613.72 1072.29,-620.72"/></g>
<g><polygon fill="white" stroke="black" points="1079,-569.72 1079,-588.72 1182,-588.72 1182,-569.72 1079,-569.72"/>
<text text-anchor="middle" x="1130.20" y="-576.72" textLength="85.63" lengthAdjust="spacingAndGlyphs">lwpoint_is_empty</text></g>
<g><path fill="none" stroke="midnightblue" d="M1004.27,-607.63C1026.57,-602.57 1054.12,-596.32 1077.7,-590.97"/>
<polygon fill="midnightblue" stroke="midnightblue" points="1078.56,-594.36 1087.54,-588.74 1077.01,-587.53 1078.56,-594.36"/></g>
<g><polygon fill="white" stroke="black" points="1081,-531.72 1081,-550.72 1180,-550.72 1180,-531.72 1081,-531.72"/>
<text text-anchor="middle" x="1129.90" y="-538.72" textLength="81.89" lengthAdjust="spacingAndGlyphs">lwpoly_is_empty</text></g>
<g><path fill="none" stroke="midnightblue" d="M977.69,-607.53C997.97,-595.3 1034.66,-574.18 1068,-560.22 1073.35,-557.98 1079.06,-555.86 1084.76,-553.92"/>
<polygon fill="midnightblue" stroke="midnightblue" points="1085.86,-557.24 1094.28,-550.81 1083.69,-550.59 1085.86,-557.24"/></g>
<g><polygon fill="white" stroke="black" points="1072.5,-493.72 1072.5,-512.72 1188.5,-512.72 1188.5,-493.72 1072.5,-493.72"/>
<text text-anchor="middle" x="1129.90" y="-500.72" textLength="98.08" lengthAdjust="spacingAndGlyphs">lwtriangle_is_empty</text></g>
<g><path fill="none" stroke="midnightblue" d="M970.04,-607.65C986.51,-588.65 1026.07,-545.96 1068,-522.22 1071.88,-520.02 1076.04,-518.05 1080.31,-516.28"/>
<polygon fill="midnightblue" stroke="midnightblue" points="1081.61,-519.53 1089.74,-512.74 1079.14,-512.98 1081.61,-519.53"/></g>
<g><path fill="none" stroke="midnightblue" d="M1067.65,-647.72C1042.3,-642.47 1014.08,-635.68 993.18,-629.68"/>
<polygon fill="midnightblue" stroke="midnightblue" points="994.14,-626.31 983.55,-626.81 992.14,-633.02 994.14,-626.31"/></g>
<g><path fill="none" stroke="midnightblue" d="M393.14,-806.86C399.51,-840.99 426.14,-956.44 501,-1001.22 568.32,-1041.49 784.67,-1037.92 854,-1001.22 909.33,-971.92 941.15,-899.35 953.7,-864.5"/>
<polygon fill="midnightblue" stroke="midnightblue" points="957.03,-865.58 956.99,-854.98 950.41,-863.3 957.03,-865.58"/></g>
<g><path fill="none" stroke="midnightblue" d="M393.07,-807.19C399.37,-843.81 426.14,-972.12 501,-1039.22 505.66,-1043.39 511.05,-1046.84 516.77,-1049.69"/>
<polygon fill="midnightblue" stroke="midnightblue" points="515.38,-1052.9 525.94,-1053.7 518.18,-1046.49 515.38,-1052.9"/></g>
<g><path fill="none" stroke="midnightblue" d="M393.21,-806.72C400.43,-844.76 431.3,-988.4 501,-1082.22 513.72,-1099.34 532.88,-1113.96 548.45,-1124.11"/>
<polygon fill="midnightblue" stroke="midnightblue" points="546.79,-1127.21 557.12,-1129.56 550.51,-1121.28 546.79,-1127.21"/></g>
<g><path fill="none" stroke="midnightblue" d="M394.15,-807.02C403.07,-837.73 435.13,-932.18 501,-968.22 559.1,-1000 584.83,-979.96 650,-968.22 745.22,-951.05 780.88,-955.58 854,-892.22 879.25,-870.33 871.3,-853.9 890,-826.22 906.68,-801.53 928.99,-775.4 943.9,-758.73"/>
<polygon fill="midnightblue" stroke="midnightblue" points="946.84,-760.7 950.95,-750.94 941.64,-756.01 946.84,-760.7"/></g>
<g><path fill="none" stroke="midnightblue" d="M394.83,-787.61C406.02,-756.32 444.74,-655.44 501,-588.22 514.86,-571.65 534.3,-556.84 549.71,-546.47"/>
<polygon fill="midnightblue" stroke="midnightblue" points="551.78,-549.29 558.24,-540.89 547.95,-543.43 551.78,-549.29"/></g>
<g><path fill="none" stroke="midnightblue" d="M394.73,-787.68C405.1,-758.56 440.48,-670.07 501,-626.22 503.67,-624.28 506.52,-622.55 509.48,-620.98"/>
<polygon fill="midnightblue" stroke="midnightblue" points="511.02,-624.13 518.68,-616.81 508.13,-617.76 511.02,-624.13"/></g>
<g><path fill="none" stroke="midnightblue" d="M431.32,-806.77C486.62,-817.53 586.98,-827.66 650,-778.22 690.8,-746.2 647.69,-702.18 686,-667.22 742.54,-615.61 796.46,-679.71 854,-629.22 936.82,-556.53 955.01,-413.31 958.94,-360.97"/>
<polygon fill="midnightblue" stroke="midnightblue" points="962.43,-361.19 959.59,-350.98 955.45,-360.73 962.43,-361.19"/></g>
<g><path fill="none" stroke="midnightblue" d="M396.65,-787.41C410.18,-762.63 449.3,-697.17 501,-664.22 515.94,-654.7 535.44,-649.93 550.61,-647.56"/>
<polygon fill="midnightblue" stroke="midnightblue" points="551.3,-651 560.76,-646.22 550.38,-644.06 551.3,-651"/></g>
<g><path fill="none" stroke="midnightblue" d="M437.68,-806.8C462.26,-811.91 492.69,-818.23 518.6,-823.61"/>
<polygon fill="midnightblue" stroke="midnightblue" points="518.15,-827.09 528.65,-825.7 519.57,-820.24 518.15,-827.09"/></g>
<g><path fill="none" stroke="midnightblue" d="M400.57,-787.7C418.27,-769.61 459.36,-730.06 501,-707.22 508.87,-702.9 517.64,-699.2 526.3,-696.09"/>
<polygon fill="midnightblue" stroke="midnightblue" points="527.63,-699.34 535.99,-692.83 525.39,-692.71 527.63,-699.34"/></g>
<g><polygon fill="white" stroke="black" points="701.5,-600.72 701.5,-619.72 838.5,-619.72 838.5,-600.72 701.5,-600.72"/>
<text text-anchor="middle" x="769.40" y="-607.72" textLength="119.06" lengthAdjust="spacingAndGlyphs">gserialized2_get_lwflags</text></g>
<g><path fill="none" stroke="midnightblue" d="M407.28,-787.51C428.1,-775.07 466.16,-753.52 501,-740.22 564.84,-715.83 596.3,-744.48 650,-702.22 676.87,-681.07 659.47,-655.79 686,-634.22 691.24,-629.96 697.2,-626.45 703.47,-623.57"/>
<polygon fill="midnightblue" stroke="midnightblue" points="704.88,-626.78 712.83,-619.78 702.25,-620.29 704.88,-626.78"/></g>
<g><polygon fill="white" stroke="red" points="504,-749.72 504,-768.72 647,-768.72 647,-749.72 504,-749.72"/>
<text text-anchor="middle" x="575.80" y="-756.72" textLength="126.59" lengthAdjust="spacingAndGlyphs">gserialized2_read_gbox_p</text></g>
<g><path fill="none" stroke="midnightblue" d="M437.68,-787.63C462.26,-782.52 492.69,-776.2 518.6,-770.82"/>
<polygon fill="midnightblue" stroke="midnightblue" points="519.57,-774.2 528.65,-768.74 518.15,-767.34 519.57,-774.2"/></g>
<g><polygon fill="white" stroke="red" points="695.5,-726.22 695.5,-756.22 844.5,-756.22 844.5,-726.22 695.5,-726.22"/>
<text text-anchor="middle" x="769.40" y="-744.22" textLength="131.48" lengthAdjust="spacingAndGlyphs">lwgeom_from_gserialized2</text>
<text text-anchor="middle" x="770.00" y="-733.22" textLength="34.54" lengthAdjust="spacingAndGlyphs">_buffer</text></g>
<g><path fill="none" stroke="midnightblue" d="M405.19,-806.89C446.09,-834.5 569.49,-908.26 650,-854.22 685.08,-830.66 654.72,-794.63 686,-766.22 687.72,-764.65 689.53,-763.19 691.42,-761.82"/>
<polygon fill="midnightblue" stroke="midnightblue" points="693.53,-764.63 700.15,-756.36 689.82,-758.69 693.53,-764.63"/></g>
<g><path fill="none" stroke="midnightblue" d="M779.38,-600.56C794.8,-582.64 828.4,-542.83 854,-507.22 891.28,-455.36 930.59,-390.8 949.12,-359.69"/>
<polygon fill="midnightblue" stroke="midnightblue" points="952.29,-361.2 954.38,-350.82 946.27,-357.63 952.29,-361.2"/></g>
<g><path fill="none" stroke="midnightblue" d="M626.62,-749.7C635.21,-746.26 643.46,-741.58 650,-735.22 684.15,-701.97 651.29,-666.87 686,-634.22 690.27,-630.2 695.17,-626.85 700.41,-624.06"/>
<polygon fill="midnightblue" stroke="midnightblue" points="701.88,-627.23 709.49,-619.86 698.95,-620.88 701.88,-627.23"/></g>
<g><path fill="none" stroke="midnightblue" d="M830.48,-756.36C838.56,-759.22 846.61,-762.49 854,-766.22 887.72,-783.2 921.87,-810.97 941.98,-828.66"/>
<polygon fill="midnightblue" stroke="midnightblue" points="939.91,-831.5 949.69,-835.56 944.57,-826.29 939.91,-831.5"/></g>
<g><path fill="none" stroke="midnightblue" d="M844.61,-741.22C866.24,-741.22 889.4,-741.22 909.25,-741.22"/>
<polygon fill="midnightblue" stroke="midnightblue" points="909.31,-744.72 919.31,-741.22 909.31,-737.72 909.31,-744.72"/></g>
<g><path fill="none" stroke="midnightblue" d="M841.12,-726.12C845.83,-723.35 850.2,-720.08 854,-716.22 860.53,-709.58 934.23,-436.98 954.74,-360.8"/>
<polygon fill="midnightblue" stroke="midnightblue" points="958.14,-361.61 957.36,-351.05 951.38,-359.79 958.14,-361.61"/></g></g>
</svg>

</body></html>
